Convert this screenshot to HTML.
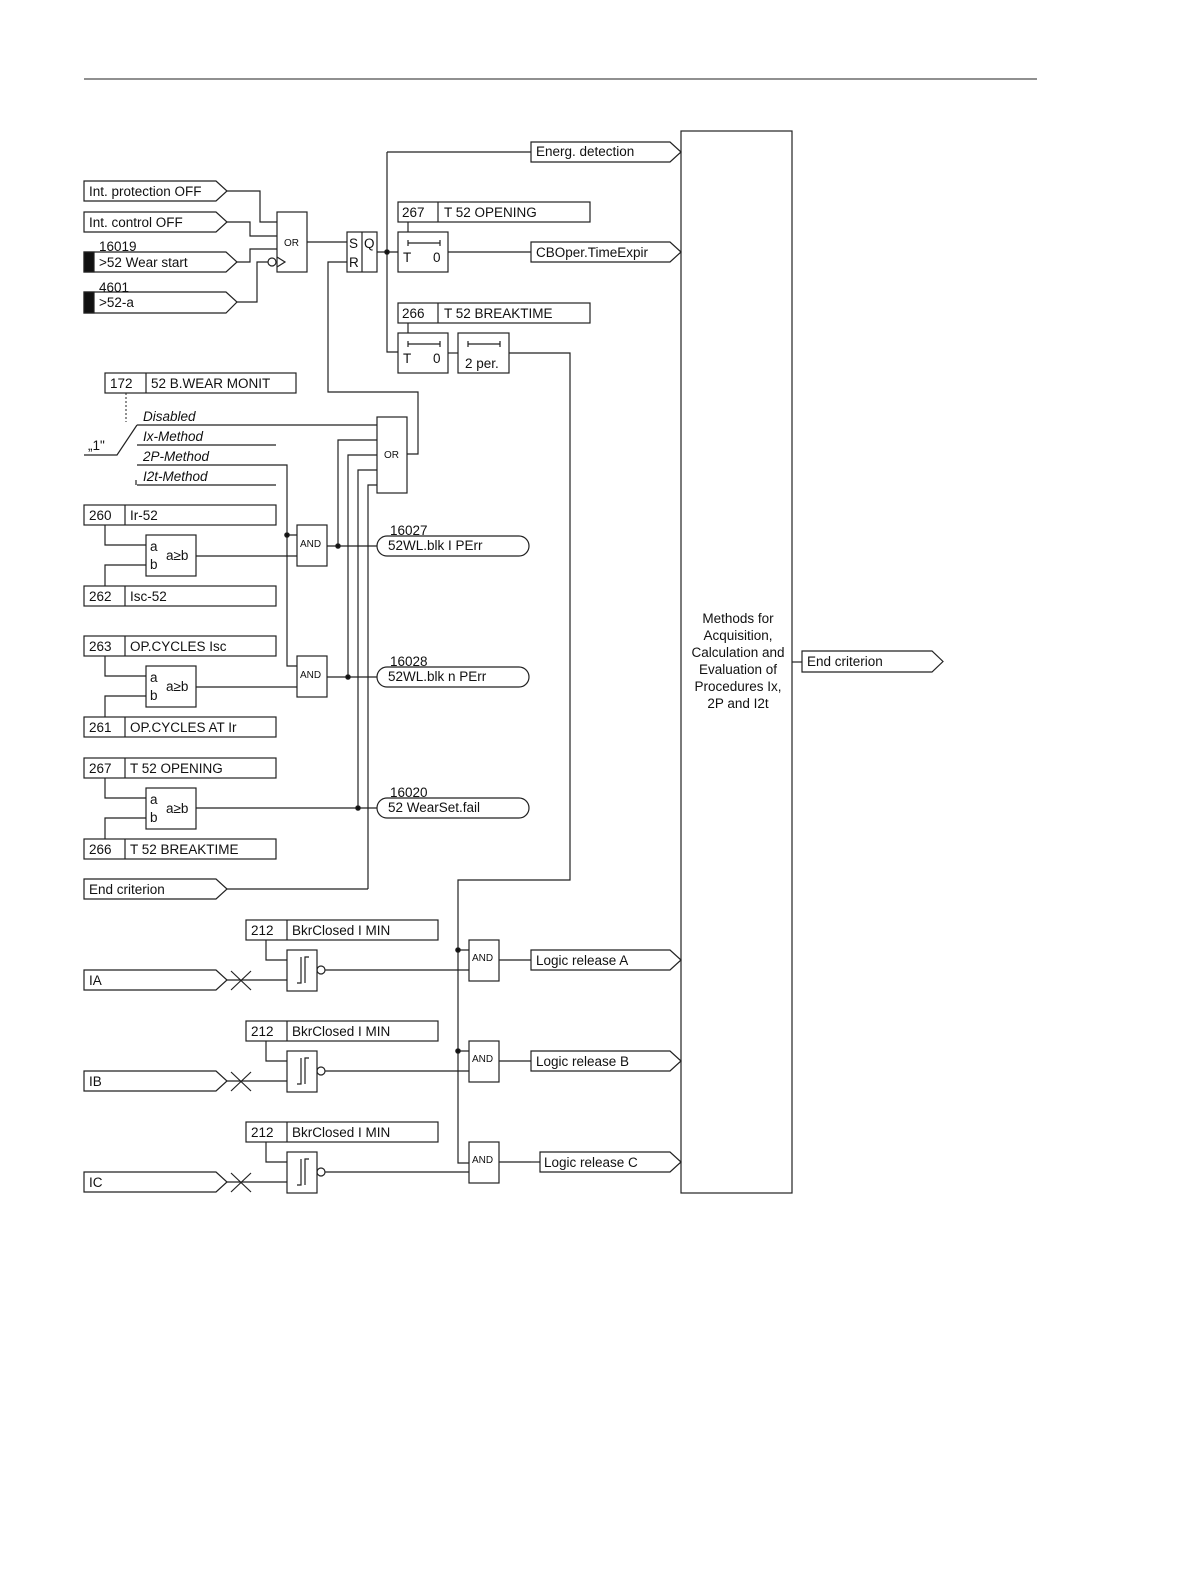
<!DOCTYPE html>
<html><head><meta charset="utf-8"><style>
body{margin:0;background:#fff}
svg{display:block}
text{font-family:"Liberation Sans",Arial,sans-serif;font-size:13.5px;fill:#111}
.s{font-size:10px}
.i{font-style:italic}
</style></head><body>
<svg width="1191" height="1587" viewBox="0 0 1191 1587" fill="none" stroke="#222" stroke-width="1.2">
<line x1="84" y1="79" x2="1037" y2="79" stroke-width="1"/>
<!-- big box -->
<rect x="681" y="131" width="111" height="1062"/>
<g stroke="none" text-anchor="middle">
<text x="738" y="623">Methods for</text><text x="738" y="640">Acquisition,</text><text x="738" y="657">Calculation and</text><text x="738" y="674">Evaluation of</text><text x="738" y="691">Procedures Ix,</text><text x="738" y="708">2P and I2t</text>
</g>
<path d="M792,662 H802"/>
<polygon points="802,651 932,651 943,661.5 932,672 802,672"/>
<text x="807" y="666" stroke="none">End criterion</text>

<!-- inputs top -->
<polygon points="84,181 216,181 227,191 216,201 84,201"/><text x="89" y="196" stroke="none">Int. protection OFF</text>
<polygon points="84,212 216,212 227,222 216,232 84,232"/><text x="89" y="227" stroke="none">Int. control OFF</text>
<polygon points="84,252 226,252 237,262 226,272 84,272"/><rect x="84" y="252" width="10" height="20" fill="#111"/><text x="99" y="267" stroke="none">&gt;52 Wear start</text><text x="99" y="251" stroke="none">16019</text>
<polygon points="84,292 226,292 237,302 226,313 84,313"/><rect x="84" y="292" width="10" height="21" fill="#111"/><text x="99" y="307" stroke="none">&gt;52-a</text><text x="99" y="292" stroke="none">4601</text>
<rect x="277" y="212" width="30" height="60"/><text x="284" y="246" class="s" stroke="none">OR</text>
<path d="M227,191 H260 V222 H277 M227,222 H250 V236 H277 M237,262 H250 V249 H277 M237,302 H257 V262 H268"/>
<circle cx="272" cy="262" r="4"/><path d="M277,257 L285,262 L277,267"/>
<path d="M307,242 H347"/>
<rect x="347" y="232" width="30" height="40"/><path d="M362,232 V272"/>
<text x="349" y="248" stroke="none">S</text><text x="349" y="267" stroke="none">R</text><text x="364" y="248" stroke="none">Q</text>
<path d="M377,252 H398 M387,152 V352 H398 M387,152 H531"/><circle cx="387" cy="252" r="2.2" fill="#111"/>
<polygon points="531,142 670,142 681,152 670,162 531,162"/><text x="536" y="156" stroke="none">Energ. detection</text>
<rect x="398" y="202" width="192" height="20"/><path d="M438,202 V222"/><text x="402" y="217" stroke="none">267</text><text x="444" y="217" stroke="none">T 52 OPENING</text>
<rect x="398" y="232" width="50" height="40"/><path d="M408,222 V232 M408,240 V246 M408,243 H440 M440,240 V246"/>
<text x="403" y="262" stroke="none">T</text><text x="433" y="262" stroke="none">0</text>
<path d="M448,252 H531"/>
<polygon points="531,242 670,242 681,252 670,262 531,262"/><text x="536" y="257" stroke="none">CBOper.TimeExpir</text>
<rect x="398" y="303" width="192" height="20"/><path d="M438,303 V323"/><text x="402" y="318" stroke="none">266</text><text x="444" y="318" stroke="none">T 52 BREAKTIME</text>
<rect x="398" y="333" width="50" height="40"/><path d="M408,323 V333 M408,341 V347 M408,344 H440 M440,341 V347"/>
<text x="403" y="363" stroke="none">T</text><text x="433" y="363" stroke="none">0</text>
<path d="M448,353 H458"/>
<rect x="458" y="333" width="51" height="40"/><path d="M468,341 V347 M468,344 H500 M500,341 V347"/><text x="465" y="368" stroke="none">2 per.</text>
<path d="M509,353 H570 V880 H458 V1163 H469"/>
<!-- R input -->
<path d="M347,262 H328 V392 H418 V454 H407"/>
<!-- 172 -->
<rect x="105" y="373" width="191" height="20"/><path d="M146,373 V393"/><text x="110" y="388" stroke="none">172</text><text x="151" y="388" stroke="none">52 B.WEAR MONIT</text>
<path d="M126,393 V422" stroke-dasharray="2,2" stroke-width="1"/>
<text x="88" y="450" stroke="none">„1"</text>
<path d="M84,455 H117 L137,425"/>
<g stroke="none" class="i"><text class="i" x="143" y="421">Disabled</text><text class="i" x="143" y="441">Ix-Method</text><text class="i" x="143" y="461">2P-Method</text><text class="i" x="143" y="481">I2t-Method</text></g>
<path d="M137,425 H377 M137,445 H276 M137,465 H287 V666 H297 M137,485 H276 M136,480 V485"/>
<rect x="377" y="417" width="30" height="76"/><text x="384" y="458" class="s" stroke="none">OR</text>
<path d="M338,546 V440 H377 M348,677 V455 H377 M358,808 V470 H377 M368,889 V485 H377"/>
<!-- blocks -->
<g id="blk">
<rect x="84" y="505" width="192" height="20"/><path d="M125,505 V525"/>
<rect x="146" y="535" width="50" height="41"/>
<path d="M105,525 V545 H146 M105,586 V565 H146"/>
<rect x="84" y="586" width="192" height="20"/><path d="M125,586 V606"/>
<text x="150" y="551" stroke="none">a</text><text x="150" y="569" stroke="none">b</text><text x="166" y="560" stroke="none">a≥b</text>
</g>
<use href="#blk" y="131"/><use href="#blk" y="253"/>
<g stroke="none">
<text x="89" y="520">260</text><text x="130" y="520">Ir-52</text><text x="89" y="601">262</text><text x="130" y="601">Isc-52</text>
<text x="89" y="651">263</text><text x="130" y="651">OP.CYCLES Isc</text><text x="89" y="732">261</text><text x="130" y="732">OP.CYCLES AT Ir</text>
<text x="89" y="773">267</text><text x="130" y="773">T 52 OPENING</text><text x="89" y="854">266</text><text x="130" y="854">T 52 BREAKTIME</text>
</g>
<rect x="297" y="525" width="30" height="41"/><text x="300" y="547" class="s" stroke="none">AND</text>
<rect x="297" y="656" width="30" height="41"/><text x="300" y="678" class="s" stroke="none">AND</text>
<path d="M287,535 H297 M196,556 H297 M196,687 H297 M196,808 H377 M327,546 H377 M327,677 H377"/>
<circle cx="287" cy="535" r="2.2" fill="#111"/><circle cx="338" cy="546" r="2.2" fill="#111"/><circle cx="348" cy="677" r="2.2" fill="#111"/><circle cx="358" cy="808" r="2.2" fill="#111"/>
<rect x="377" y="536" width="152" height="20" rx="10"/><text x="390" y="535" stroke="none">16027</text><text x="388" y="550" stroke="none">52WL.blk I PErr</text>
<rect x="377" y="667" width="152" height="20" rx="10"/><text x="390" y="666" stroke="none">16028</text><text x="388" y="681" stroke="none">52WL.blk n PErr</text>
<rect x="377" y="798" width="152" height="20" rx="10"/><text x="390" y="797" stroke="none">16020</text><text x="388" y="812" stroke="none">52 WearSet.fail</text>
<polygon points="84,879 216,879 227,889 216,899 84,899"/><text x="89" y="894" stroke="none">End criterion</text>
<path d="M227,889 H368"/>
<!-- phases -->
<g id="ph">
<rect x="246" y="920" width="192" height="20"/><path d="M287,920 V940"/>
<rect x="287" y="950" width="30" height="41"/>
<path d="M297,983 H301 V957 M305,983 V957 H309 M266,940 V960 H287"/>
<circle cx="321" cy="970" r="4"/>
<path d="M325,970 H469 M227,980 H287 M231,971 L251,990 M231,990 L251,971"/>
<polygon points="84,970 216,970 227,980 216,990 84,990"/>
<rect x="469" y="940" width="30" height="41"/>
<path d="M499,960 H531"/>
</g>
<use href="#ph" y="101"/><use href="#ph" y="202"/>
<path d="M458,950 H469 M458,1051 H469"/><circle cx="458" cy="950" r="2.2" fill="#111"/><circle cx="458" cy="1051" r="2.2" fill="#111"/>
<path d="M531,1162 H540"/>
<polygon points="531,950 670,950 681,960 670,970 531,970"/>
<polygon points="531,1051 670,1051 681,1061 670,1071 531,1071"/>
<polygon points="540,1152 670,1152 681,1162 670,1172 540,1172"/>
<g stroke="none">
<text x="251" y="935">212</text><text x="292" y="935">BkrClosed I MIN</text>
<text x="251" y="1036">212</text><text x="292" y="1036">BkrClosed I MIN</text>
<text x="251" y="1137">212</text><text x="292" y="1137">BkrClosed I MIN</text>
<text x="89" y="985">IA</text><text x="89" y="1086">IB</text><text x="89" y="1187">IC</text>
<text class="s" x="472" y="961">AND</text><text class="s" x="472" y="1062">AND</text><text class="s" x="472" y="1163">AND</text>
<text x="536" y="965">Logic release A</text><text x="536" y="1066">Logic release B</text><text x="544" y="1167">Logic release C</text>
</g>
</svg>
</body></html>
